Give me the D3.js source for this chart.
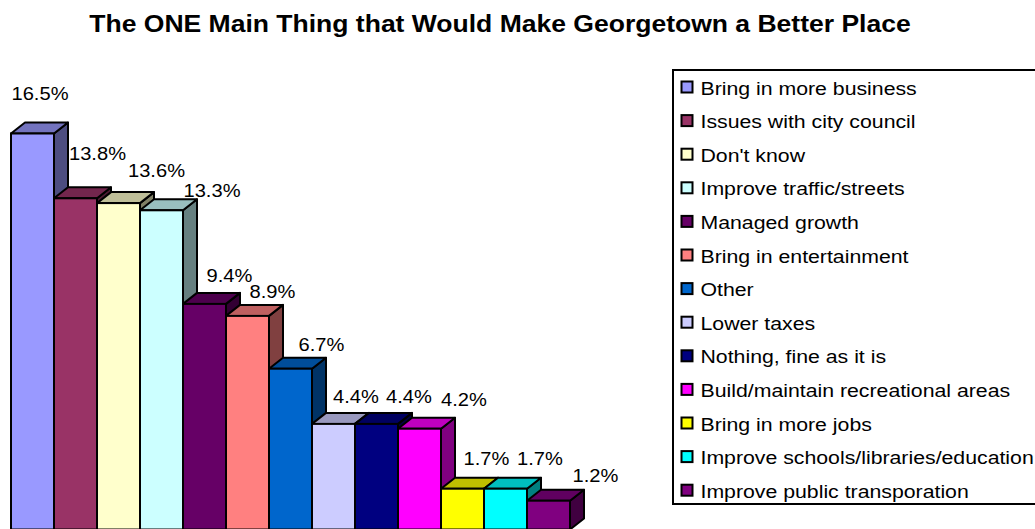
<!DOCTYPE html>
<html>
<head>
<meta charset="utf-8">
<script src="https://cdn.jsdelivr.net/npm/d3@7"></script>
<style>
  html, body { margin: 0; padding: 0; background: #fff; }
  svg { display: block; font-family: Arial, "Liberation Sans", sans-serif; }
</style>
</head>
<body>
<svg id="chart" width="1035" height="529"></svg>
<script>
// Survey answers, in descending order of share
const categories = [
  "Bring in more business",
  "Issues with city council",
  "Don't know",
  "Improve traffic/streets",
  "Managed growth",
  "Bring in entertainment",
  "Other",
  "Lower taxes",
  "Nothing, fine as it is",
  "Build/maintain recreational areas",
  "Bring in more jobs",
  "Improve schools/libraries/education",
  "Improve public transporation"
];
const values = [16.5, 13.8, 13.6, 13.3, 9.4, 8.9, 6.7, 4.4, 4.4, 4.2, 1.7, 1.7, 1.2];
const colors = [
  "#9999FF", "#993366", "#FFFFCC", "#CCFFFF", "#660066", "#FF8080", "#0066CC",
  "#CCCCFF", "#000080", "#FF00FF", "#FFFF00", "#00FFFF", "#800080"
];
const title = "The ONE Main Thing that Would Make Georgetown a Better Place";

// Layout
const W = 1035, H = 529;
const baseY = 529.5;
const depthX = 14, depthY = -11;
// Value-label nudges relative to the top-back centre of each column
const labelShiftX = [0.5, 15, 31, 43.5, 18, 18, 24, 15.5, 25.5, 37.5, 17, 27.5, 40];
const labelShiftY = [-22.5, -27, -15.5, -2.5, -11, -7, -7, -10, -10, -12, -12.5, -12.5, -8];

const svg = d3.select("#chart");

const x = d3.scaleBand().domain(categories).range([11, 570]).padding(0);
const y = d3.scaleLinear().domain([0, 20]).range([baseY, baseY - 480]);
const color = d3.scaleOrdinal().domain(categories).range(colors);

function shade(c, k) {
  const r = d3.rgb(c);
  return d3.rgb(r.r * k, r.g * k, r.b * k).formatHex();
}

// Title
svg.append("text")
  .attr("transform", `translate(500,32) scale(1.105,1)`)
  .attr("text-anchor", "middle")
  .attr("font-size", 24)
  .attr("font-weight", "bold")
  .attr("fill", "#000")
  .text(title);

// 3-D columns, drawn left to right so each one overlaps its neighbour's side
const data = categories.map((c, i) => ({ c, v: values[i], i }));
const bars = svg.append("g").attr("class", "bars");

data.forEach(d => {
  const x0 = x(d.c), w = x.bandwidth(), yt = y(d.v);
  const g = bars.append("g");
  const fill = color(d.c);
  // side face
  g.append("polygon")
    .attr("points", [[x0 + w, yt], [x0 + w + depthX, yt + depthY], [x0 + w + depthX, baseY + depthY], [x0 + w, baseY]].join(" "))
    .attr("fill", shade(fill, 0.5))
    .attr("stroke", "#000").attr("stroke-width", 2).attr("stroke-linejoin", "round");
  // top face
  g.append("polygon")
    .attr("points", [[x0, yt], [x0 + depthX, yt + depthY], [x0 + w + depthX, yt + depthY], [x0 + w, yt]].join(" "))
    .attr("fill", shade(fill, 0.75))
    .attr("stroke", "#000").attr("stroke-width", 2).attr("stroke-linejoin", "round");
  // front face
  g.append("rect")
    .attr("x", x0).attr("y", yt)
    .attr("width", w).attr("height", baseY - yt)
    .attr("fill", fill)
    .attr("stroke", "#000").attr("stroke-width", 2);
});

// Value labels
svg.append("g").attr("class", "labels")
  .selectAll("text")
  .data(data)
  .join("text")
  .attr("transform", d => {
    const cx = x(d.c) + x.bandwidth() / 2 + depthX / 2 + labelShiftX[d.i];
    const cy = y(d.v) + depthY + labelShiftY[d.i];
    return `translate(${cx},${cy}) scale(1.06,1)`;
  })
  .attr("text-anchor", "middle")
  .attr("font-size", 19)
  .attr("fill", "#000")
  .text(d => d.v.toFixed(1) + "%");

// Legend
const legend = svg.append("g").attr("class", "legend");
const legendX = 673, legendTop = 70, legendBottom = 504;
const rowStep = 33.6, firstBaseline = 94.5;

legend.append("rect")
  .attr("x", legendX).attr("y", legendTop)
  .attr("width", W - legendX + 10).attr("height", legendBottom - legendTop)
  .attr("fill", "#fff")
  .attr("stroke", "#000").attr("stroke-width", 2);

const rows = legend.selectAll("g.row")
  .data(data)
  .join("g")
  .attr("class", "row")
  .attr("transform", d => `translate(0,${firstBaseline + d.i * rowStep})`);

rows.append("rect")
  .attr("x", 681.5).attr("y", -13)
  .attr("width", 11).attr("height", 11)
  .attr("fill", d => color(d.c))
  .attr("stroke", "#000").attr("stroke-width", 2);

rows.append("text")
  .attr("transform", "translate(700.5,0) scale(1.15,1)")
  .attr("font-size", 18.5)
  .attr("fill", "#000")
  .text(d => d.c);
</script>
</body>
</html>
